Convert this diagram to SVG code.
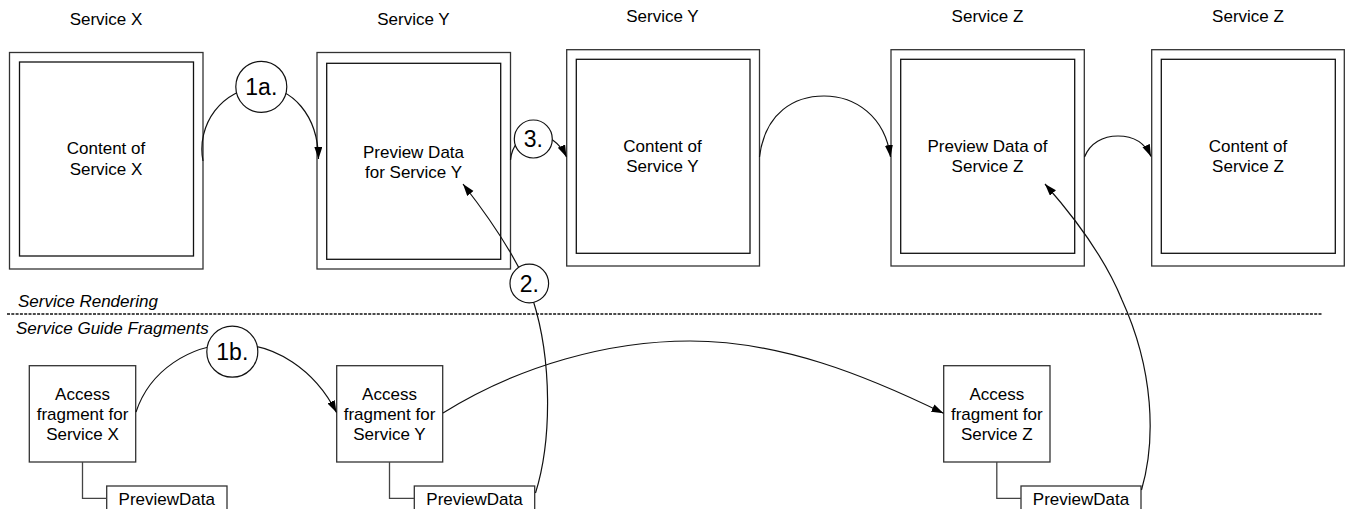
<svg xmlns="http://www.w3.org/2000/svg" width="1345" height="509" viewBox="0 0 1345 509">
<style>
text{font-family:"Liberation Sans",Arial,sans-serif;fill:#000}
.t{font-size:17px;text-anchor:middle}
.i{font-size:17px;font-style:italic}
.n{font-size:23px;text-anchor:middle}
.outer{fill:#fff;stroke:#333;stroke-width:1.3}
.inner{fill:#fff;stroke:#111;stroke-width:1.3}
.box{fill:#fff;stroke:#333;stroke-width:1.3}
.circ{fill:#fff;stroke:#111;stroke-width:1.2}
.c{fill:none;stroke:#111;stroke-width:1.2}
.e{fill:none;stroke:#444;stroke-width:1.3}
</style>
<defs>
<marker id="ah" markerUnits="userSpaceOnUse" markerWidth="13" markerHeight="9" refX="12" refY="4" orient="auto">
<path d="M0,0 L12,4 L0,8 z" fill="#000"/>
</marker>
</defs>

<text class="i" x="18" y="306.5">Service Rendering</text>
<line x1="7" y1="314" x2="1322" y2="314" stroke="#111" stroke-width="1.7" stroke-dasharray="3 1.3"/>
<text class="i" x="16" y="333.5">Service Guide Fragments</text>

<g id="screen-x">
<text class="t" x="106" y="25">Service X</text>
<rect class="outer" x="9.5" y="52.5" width="193.5" height="216.5"/>
<rect class="inner" x="19.5" y="62" width="174" height="194"/>
<text class="t" x="106" y="154">Content of</text>
<text class="t" x="106" y="175">Service X</text>
</g>

<g id="screen-y-preview">
<text class="t" x="413.5" y="25">Service Y</text>
<rect class="outer" x="317" y="52.5" width="193.5" height="216.5"/>
<rect class="inner" x="326.7" y="63.3" width="174" height="196"/>
<text class="t" x="413.5" y="157.5">Preview Data</text>
<text class="t" x="413.5" y="177.5">for Service Y</text>
</g>

<g id="screen-y-content">
<text class="t" x="662.5" y="22">Service Y</text>
<rect class="outer" x="566.7" y="49.7" width="192.8" height="216.3"/>
<rect class="inner" x="576.3" y="59.3" width="173.7" height="194"/>
<text class="t" x="662.5" y="151.5">Content of</text>
<text class="t" x="662.5" y="172">Service Y</text>
</g>

<g id="screen-z-preview">
<text class="t" x="987.5" y="22">Service Z</text>
<rect class="outer" x="891" y="49.7" width="193.3" height="216.3"/>
<rect class="inner" x="900.7" y="59.3" width="174" height="194"/>
<text class="t" x="987.5" y="151.5">Preview Data of</text>
<text class="t" x="987.5" y="172">Service Z</text>
</g>

<g id="screen-z-content">
<text class="t" x="1248" y="22">Service Z</text>
<rect class="outer" x="1151.7" y="49.7" width="192.6" height="216.3"/>
<rect class="inner" x="1161.3" y="59.3" width="174" height="194"/>
<text class="t" x="1248" y="151.5">Content of</text>
<text class="t" x="1248" y="172">Service Z</text>
</g>

<g id="access-x">
<rect class="box" x="29.3" y="365.7" width="106.4" height="96.3"/>
<text class="t" x="82.5" y="400">Access</text>
<text class="t" x="82.5" y="420">fragment for</text>
<text class="t" x="82.5" y="440">Service X</text>
</g>
<g id="preview-x">
<rect class="box" x="106.7" y="486" width="120.3" height="30"/>
<text class="t" x="166.8" y="504.5">PreviewData</text>
</g>

<g id="access-y">
<rect class="box" x="336.7" y="365.7" width="106" height="96.3"/>
<text class="t" x="389.5" y="400">Access</text>
<text class="t" x="389.5" y="420">fragment for</text>
<text class="t" x="389.5" y="440">Service Y</text>
</g>
<g id="preview-y">
<rect class="box" x="414.3" y="486" width="120.4" height="30"/>
<text class="t" x="474.5" y="504.5">PreviewData</text>
</g>

<g id="access-z">
<rect class="box" x="943.7" y="365.7" width="106.3" height="96.3"/>
<text class="t" x="996.8" y="400">Access</text>
<text class="t" x="996.8" y="420">fragment for</text>
<text class="t" x="996.8" y="440">Service Z</text>
</g>
<g id="preview-z">
<rect class="box" x="1021" y="486" width="120" height="30"/>
<text class="t" x="1081" y="504.5">PreviewData</text>
</g>

<g id="connectors">
<path class="e" d="M82.5,462 V498.3 H106.7"/>
<path class="e" d="M389.5,462 V498.3 H414.3"/>
<path class="e" d="M996.8,462 V498.3 H1021"/>
<path class="c" marker-end="url(#ah)" d="M203,161 C196,125 222,88 261,87 C292,87 318,115 318.5,159"/>
<path class="c" marker-end="url(#ah)" d="M510.5,160 C512,145 522,134 533,134 C548,134 560,143 566.5,157"/>
<path class="c" marker-end="url(#ah)" d="M759.5,157 C765,112 795,96 824,96 C855,96 885,116 890.5,157"/>
<path class="c" marker-end="url(#ah)" d="M1084.5,157 C1090,143 1103,136 1118,136 C1133,136 1145,143 1151,156.5"/>
<path class="c" marker-end="url(#ah)" d="M535.5,493 C552,440 552,360 533,300 C522,268 495,225 463,184"/>
<path class="c" marker-end="url(#ah)" d="M1141.5,490 C1156,440 1154,370 1122,300 C1105,258 1075,218 1045,184"/>
<path class="c" marker-end="url(#ah)" d="M136,412 C150,370 190,345 232,344 C275,343 315,370 336.5,412.5"/>
<path class="c" marker-end="url(#ah)" d="M443,413 C520,365 610,341 690,341 C780,341 865,375 943.5,413.3"/>
</g>

<g id="step-1a">
<circle class="circ" cx="261.3" cy="86.8" r="25.5"/>
<text class="n" x="261.3" y="95">1a.</text>
</g>
<g id="step-3">
<circle class="circ" cx="533.3" cy="139" r="19"/>
<text class="n" x="533.3" y="147.2">3.</text>
</g>
<g id="step-2">
<circle class="circ" cx="529.3" cy="283.5" r="19.3"/>
<text class="n" x="529.3" y="291.7">2.</text>
</g>
<g id="step-1b">
<circle class="circ" cx="232.3" cy="351.7" r="25.5"/>
<text class="n" x="232.3" y="360">1b.</text>
</g>
</svg>
